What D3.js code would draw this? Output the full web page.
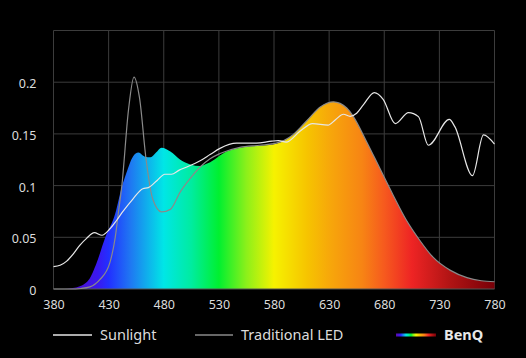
<!DOCTYPE html>
<html><head><meta charset="utf-8">
<script src="https://cdn.jsdelivr.net/npm/d3@7"></script>
<style>
html,body{margin:0;padding:0;background:#000;}
svg{display:block;}
text{font-family:"Noto Sans",sans-serif;}
</style></head>
<body>
<svg id="c" width="526" height="358"></svg>
<script>
// ---- data ----
const xTicks = [380,430,480,530,580,630,680,730,780];
const yTicks = [0,0.05,0.1,0.15,0.2];
const yTickLabels = ["0","0.05","0.1","0.15","0.2"];
const legendLabels = ["Sunlight","Traditional LED","BenQ"];

const sunNm = [380,386,392,398,404,410,417,424,431,437,443,452,461,466,474,481,487,494,501,513,522,531,546,564,578,584,591,603,615,629,636,643,649,655,661,671,679,690,702,711,720,739,744,760,770,780];
const sunVal = [0.0216,0.023,0.027,0.034,0.0425,0.049,0.0545,0.052,0.058,0.066,0.075,0.087,0.097,0.098,0.105,0.111,0.111,0.115,0.118,0.124,0.130,0.136,0.141,0.141,0.143,0.1435,0.142,0.152,0.160,0.1585,0.164,0.169,0.167,0.170,0.178,0.190,0.1835,0.160,0.1705,0.1667,0.139,0.164,0.157,0.1096,0.149,0.140];

const ledNm = [380,395,405,413,422,431,436,439,442,448,453,458,464,470,478,486,495,504,513,522,531,549,567,582,597,610,622,634,646,652,664,676,688,700,712,724,740,755,768,780];
const ledVal = [0,0,0.0005,0.002,0.009,0.025,0.05,0.075,0.1,0.173,0.205,0.185,0.125,0.087,0.0745,0.077,0.094,0.107,0.118,0.126,0.131,0.137,0.139,0.141,0.149,0.163,0.176,0.181,0.175,0.1667,0.1425,0.1167,0.091,0.0667,0.0474,0.031,0.018,0.011,0.008,0.007];

const benqNm = [380,390,396,402,412,419,427,436,442,446,452,457,463,468,473,478,486,495,504,513,520,537,555,573,585,597,610,622,634,646,652,664,676,688,700,712,724,740,755,768,780];
const benqVal = [0,0,0.0008,0.002,0.009,0.025,0.05,0.073,0.099,0.112,0.128,0.132,0.128,0.1275,0.132,0.1367,0.133,0.125,0.1205,0.119,0.1215,0.133,0.1376,0.139,0.1415,0.149,0.163,0.176,0.181,0.175,0.1667,0.1425,0.1167,0.091,0.0667,0.0474,0.031,0.018,0.011,0.008,0.007];

const specNm = [380,420,430,450,480,505,530,555,580,610,630,660,680,705,740,780];
const specCol = ["#5c0aa8","#3a18f0","#2230ff","#1f78f2","#00e6e6","#00eca0","#00f030","#8cf01a","#f6f200","#f6c400","#f7a80a","#f78414","#f65a1e","#ee2424","#b01414","#780008"];

// ---- chart ----
const svg = d3.select("#c");
const x = d3.scaleLinear().domain([380,780]).range([53.5,494.5]);
const y = d3.scaleLinear().domain([0,0.25]).range([289,30.5]);
const grid = "#3c3c3c";
const txt = "#dcdcdc";

const defs = svg.append("defs");
const g1 = defs.append("linearGradient").attr("id","spec").attr("gradientUnits","userSpaceOnUse")
  .attr("x1",x(380)).attr("x2",x(780)).attr("y1",0).attr("y2",0);
specNm.forEach((n,i)=>g1.append("stop").attr("offset",(n-380)/400).attr("stop-color",specCol[i]));
const g2 = defs.append("linearGradient").attr("id","specL");
specNm.forEach((n,i)=>g2.append("stop").attr("offset",(n-380)/400).attr("stop-color",specCol[i]));

// grid
svg.append("g").selectAll("line").data(xTicks).join("line")
  .attr("x1",d=>x(d)).attr("x2",d=>x(d)).attr("y1",y(0.25)).attr("y2",y(0))
  .attr("stroke",grid).attr("stroke-width",1);
svg.append("g").selectAll("line").data([0.05,0.1,0.15,0.2,0.25]).join("line")
  .attr("x1",x(380)).attr("x2",x(780)).attr("y1",d=>y(d)).attr("y2",d=>y(d))
  .attr("stroke",grid).attr("stroke-width",1);

// BenQ area
const benq = benqNm.map((n,i)=>[n,benqVal[i]]);
svg.append("path").datum(benq)
  .attr("d",d3.area().x(d=>x(d[0])).y0(y(0)).y1(d=>y(d[1])).curve(d3.curveMonotoneX))
  .attr("fill","url(#spec)");

// axis baseline
svg.append("line").attr("x1",x(380)).attr("x2",x(780)).attr("y1",y(0)).attr("y2",y(0)).attr("stroke","#555");

// LED line
const led = ledNm.map((n,i)=>[n,ledVal[i]]);
svg.append("path").datum(led)
  .attr("d",d3.line().x(d=>x(d[0])).y(d=>y(d[1])).curve(d3.curveMonotoneX))
  .attr("fill","none").attr("stroke","#8a8a8a").attr("stroke-width",1.2);

// Sunlight line
const sun = sunNm.map((n,i)=>[n,sunVal[i]]);
svg.append("path").datum(sun)
  .attr("d",d3.line().x(d=>x(d[0])).y(d=>y(d[1])).curve(d3.curveMonotoneX))
  .attr("fill","none").attr("stroke","#e6e6e6").attr("stroke-width",1.2);

// axes labels
const xa = d3.axisBottom(x).tickValues(xTicks).tickSize(0).tickPadding(11).tickFormat(d3.format("d"));
const gx = svg.append("g").attr("transform",`translate(0,${y(0)})`).call(xa);
gx.select(".domain").remove();
gx.selectAll("text").attr("fill",txt).attr("font-size",12.5).attr("font-family","Noto Sans");

const ya = d3.axisLeft(y).tickValues(yTicks).tickSize(0).tickPadding(17).tickFormat((d,i)=>yTickLabels[i]);
const gy = svg.append("g").attr("transform",`translate(${x(380)},0)`).call(ya);
gy.select(".domain").remove();
gy.selectAll("text").attr("fill",txt).attr("font-size",12.5).attr("font-family","Noto Sans").attr("dy","0.45em");

// legend
const ly = 335;
const leg = svg.append("g");
leg.append("line").attr("x1",53).attr("x2",92).attr("y1",ly).attr("y2",ly).attr("stroke","#e6e6e6").attr("stroke-width",1.5);
leg.append("text").attr("x",100).attr("y",ly+5).attr("fill",txt).attr("font-size",14.5).text(legendLabels[0]);
leg.append("line").attr("x1",195).attr("x2",233).attr("y1",ly).attr("y2",ly).attr("stroke","#8a8a8a").attr("stroke-width",1.5);
leg.append("text").attr("x",241).attr("y",ly+5).attr("fill",txt).attr("font-size",14.5).text(legendLabels[1]);
leg.append("rect").attr("x",396).attr("y",ly-1.5).attr("width",40).attr("height",3).attr("fill","url(#specL)");
leg.append("text").attr("x",444).attr("y",ly+5).attr("fill","#e8e8e8").attr("font-size",14.5).attr("font-weight","bold").text(legendLabels[2]);
</script>
</body></html>
